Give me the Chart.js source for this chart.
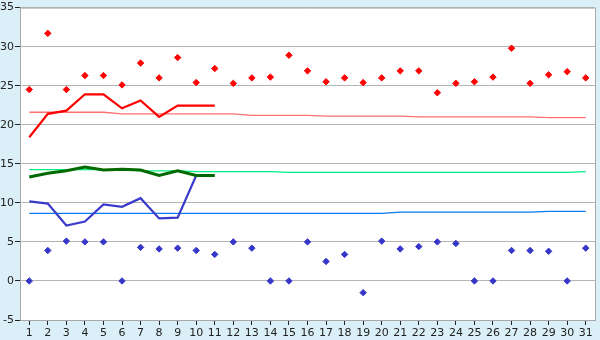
<!DOCTYPE html>
<html>
<head>
<meta charset="utf-8">
<script src="https://cdn.jsdelivr.net/npm/chart.js@4"></script>
<style>
    html, body { margin: 0; padding: 0; background: #daeff7; }
    #wrap { width: 600px; height: 340px; }
</style>
</head>
<body>
<div id="wrap"><canvas id="tempChart"></canvas></div>
<script>
const days = ["1", "2", "3", "4", "5", "6", "7", "8", "9", "10", "11", "12", "13", "14", "15", "16",
    "17", "18", "19", "20", "21", "22", "23", "24", "25", "26", "27", "28", "29", "30", "31"];

const maxTemps = [24.5, 31.7, 24.5, 26.3, 26.3, 25.1, 27.9, 26.0, 28.6, 25.4, 27.2, 25.3, 26.0, 26.1, 28.9, 26.9,
    25.5, 26.0, 25.4, 26.0, 26.9, 26.9, 24.1, 25.3, 25.5, 26.1, 29.8, 25.3, 26.4, 26.8, 26.0];
const minTemps = [0, 3.9, 5.1, 5.0, 5.0, 0, 4.3, 4.1, 4.2, 3.9, 3.4, 5.0, 4.2, 0, 0, 5.0,
    2.5, 3.4, -1.5, 5.1, 4.1, 4.4, 5.0, 4.8, 0, 0, 3.9, 3.9, 3.8, 0, 4.2];

const maxAvg = [18.4, 21.4, 21.8, 23.9, 23.9, 22.1, 23.1, 21.0, 22.45, 22.45, 22.45];
const meanAvg = [13.3, 13.8, 14.1, 14.6, 14.2, 14.3, 14.2, 13.5, 14.1, 13.5, 13.5];
const minAvg = [10.2, 9.9, 7.1, 7.6, 9.8, 9.5, 10.6, 8.0, 8.1, 13.5];

const maxNormal = [21.6, 21.6, 21.6, 21.6, 21.6, 21.4, 21.4, 21.4, 21.4, 21.4, 21.4, 21.4, 21.2, 21.2, 21.2, 21.2,
    21.1, 21.1, 21.1, 21.1, 21.1, 21.0, 21.0, 21.0, 21.0, 21.0, 21.0, 21.0, 20.9, 20.9, 20.9];
const meanNormal = [14.25, 14.25, 14.25, 14.25, 14.25, 14.25, 14.1, 14.1, 14.1, 14.0, 14.0, 14.0, 14.0, 14.0, 13.9, 13.9,
    13.9, 13.9, 13.9, 13.9, 13.9, 13.9, 13.9, 13.9, 13.9, 13.9, 13.9, 13.9, 13.9, 13.9, 14.0];
const minNormal = [8.65, 8.65, 8.65, 8.65, 8.65, 8.65, 8.65, 8.65, 8.65, 8.65, 8.65, 8.65, 8.65, 8.65, 8.65, 8.65,
    8.65, 8.65, 8.65, 8.65, 8.8, 8.8, 8.8, 8.8, 8.8, 8.8, 8.8, 8.8, 8.9, 8.9, 8.9];

// white plot area with a grey frame, like the original
const plotFrame = {
    id: "plotFrame",
    beforeDraw(chart) {
        const { ctx, chartArea: a } = chart;
        ctx.save();
        ctx.fillStyle = "#ffffff";
        ctx.fillRect(a.left, a.top, a.right - a.left, a.bottom - a.top);
        ctx.restore();
    },
    afterDatasetsDraw(chart) {
        const { ctx, chartArea: a } = chart;
        ctx.save();
        ctx.strokeStyle = "#a8a8a8";
        ctx.lineWidth = 1;
        ctx.beginPath();
        ctx.moveTo(a.left, a.top + 0.5);
        ctx.lineTo(a.right + 0.5, a.top + 0.5);
        ctx.lineTo(a.right + 0.5, a.bottom);
        ctx.stroke();
        ctx.restore();
    }
};

const line = (data, color, width, order) => ({
    type: "line", data, borderColor: color, borderWidth: width,
    pointRadius: 0, tension: 0, fill: false, order
});
const dots = (data, color) => ({
    type: "line", data, showLine: false, pointStyle: "rectRot", pointRadius: 3.2,
    pointBackgroundColor: color, pointBorderColor: color, pointBorderWidth: 1, order: 0
});

new Chart(document.getElementById("tempChart"), {
    data: {
        labels: days,
        datasets: [
            dots(maxTemps, "#ff0000"),
            dots(minTemps, "#3636c8"),
            line(maxAvg, "#ff0000", 2.2, 1),
            line(meanAvg, "#006a00", 3, 1),
            line(minAvg, "#3a3acb", 2.2, 1),
            line(maxNormal, "#ff7070", 1.3, 2),
            line(meanNormal, "#00f080", 1.3, 2),
            line(minNormal, "#0a7cf0", 1.3, 2)
        ]
    },
    options: {
        responsive: true,
        maintainAspectRatio: false,
        animation: false,
        layout: { padding: { top: 5, right: 5, left: 0, bottom: 0 } },
        plugins: { legend: { display: false }, tooltip: { enabled: false } },
        scales: {
            x: {
                offset: true,
                afterFit: s => { s.height = 20; },
                grid: { display: true, drawOnChartArea: false, tickLength: 5, color: "#222222", offset: false },
                border: { color: "#a8a8a8" },
                ticks: { color: "#222222", font: { family: "DejaVu Sans", size: 11 }, padding: 2, maxRotation: 0, autoSkip: false }
            },
            y: {
                min: -5, max: 35,
                afterFit: s => { s.width = 20; },
                grid: { color: "#b4b4b4", tickLength: 5, tickColor: "#222222" },
                border: { color: "#a8a8a8" },
                ticks: { stepSize: 5, color: "#222222", font: { family: "DejaVu Sans", size: 11 }, padding: 1 }
            }
        }
    },
    plugins: [plotFrame]
});
</script>
</body>
</html>
